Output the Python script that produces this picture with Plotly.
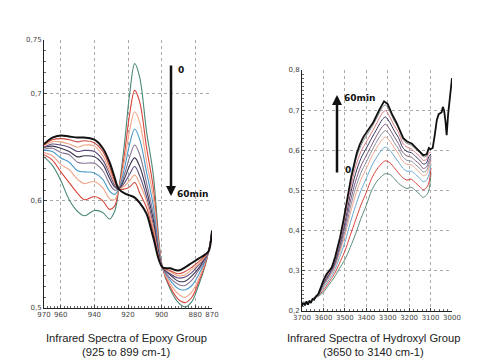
import plotly.graph_objects as go

# ---------------- Epoxy group (left panel) ----------------
X_EPOXY = [970, 965, 960, 955, 950, 946, 940, 935, 931, 928, 925.5, 922, 919, 916, 913,
           909, 905, 899.5, 895, 890, 886, 882, 878, 874, 872, 870]

EPOXY_T0 = [.641, .633, .619, .601, .590, .586, .591, .589, .583, .590, .611, .655, .700, .728, .715, .665, .625, .538, .518, .505, .501, .506, .521, .540, .553, .572]
EPOXY_T1 = [.643, .638, .627, .617, .607, .601, .604, .600, .592, .595, .611, .645, .681, .703, .692, .650, .613, .538, .520, .508, .505, .510, .524, .541, .553, .572]
EPOXY_T2 = [.645, .642, .634, .629, .620, .616, .618, .612, .602, .601, .611, .638, .666, .683, .673, .637, .604, .538, .523, .513, .510, .515, .527, .543, .553, .572]
EPOXY_T3 = [.647, .646, .640, .636, .628, .627, .626, .620, .609, .606, .611, .631, .653, .667, .657, .627, .596, .538, .526, .518, .517, .521, .531, .544, .553, .572]
EPOXY_T4 = [.648, .649, .645, .643, .636, .635, .635, .628, .616, .610, .611, .625, .641, .652, .643, .617, .588, .538, .528, .522, .521, .526, .535, .545, .553, .572]
EPOXY_T5 = [.650, .651, .649, .646, .641, .642, .641, .634, .621, .613, .611, .621, .633, .640, .632, .610, .583, .538, .531, .525, .525, .530, .537, .547, .553, .572]
EPOXY_T6 = [.650, .653, .652, .650, .646, .647, .646, .638, .625, .615, .611, .617, .625, .632, .623, .604, .578, .538, .532, .528, .529, .533, .540, .547, .553, .572]
EPOXY_T7 = [.651, .655, .655, .653, .650, .652, .651, .642, .628, .617, .611, .614, .619, .624, .616, .600, .575, .538, .534, .530, .531, .536, .541, .548, .553, .572]
EPOXY_T8 = [.652, .657, .658, .657, .655, .656, .654, .646, .632, .619, .611, .611, .613, .617, .607, .594, .571, .538, .535, .532, .534, .538, .543, .549, .553, .572]
EPOXY_T9 = [.653, .659, .661, .660, .659, .659, .657, .649, .636, .622, .611, .607, .605, .603, .598, .588, .566, .538, .537, .535, .538, .542, .546, .550, .553, .572]

EPOXY_COLORS = ["#4a8a78", "#d9443a", "#f2a58a", "#4a9bc9", "#857392",
                "#3a3350", "#5e4c7c", "#eea27f", "#cd4a3d", "#111111"]

EPOXY_XTICKS = [970, 960, 940, 920, 900, 880, 870]
EPOXY_YTICKS = [0.5, 0.6, 0.7, 0.75]
EPOXY_YTEXT = ["0,5", "0,6", "0,7", "0,75"]

# ---------------- Hydroxyl group (right panel) ----------------
X_HYD = [3650, 3625, 3600, 3575, 3550, 3525, 3500, 3475, 3450, 3425, 3400, 3375, 3350, 3325,
         3310, 3290, 3270, 3250, 3230, 3210, 3190, 3170, 3150, 3135, 3120, 3108, 3098]

HYD_T0 = [.228, .236, .247, .265, .283, .306, .328, .358, .392, .430, .463, .500, .523, .537, .542, .540, .530, .518, .510, .505, .508, .500, .490, .483, .488, .500, .545]
HYD_T1 = [.228, .237, .252, .271, .291, .319, .349, .388, .426, .464, .495, .530, .553, .569, .574, .569, .557, .544, .532, .526, .528, .519, .509, .502, .506, .519, .556]
HYD_T2 = [.229, .238, .258, .277, .299, .333, .371, .419, .462, .500, .530, .561, .584, .603, .608, .600, .586, .571, .556, .548, .548, .540, .530, .522, .525, .539, .567]
HYD_T3 = [.229, .239, .262, .282, .305, .343, .388, .442, .489, .527, .555, .584, .608, .627, .633, .623, .607, .591, .573, .565, .564, .555, .545, .537, .540, .554, .575]
HYD_T4 = [.229, .240, .264, .285, .309, .349, .398, .456, .506, .544, .571, .598, .623, .643, .649, .638, .620, .604, .584, .575, .573, .564, .555, .546, .549, .564, .580]
HYD_T5 = [.229, .240, .267, .288, .313, .356, .409, .471, .523, .561, .587, .613, .638, .659, .665, .652, .634, .617, .595, .586, .583, .574, .565, .555, .558, .573, .585]
HYD_T6 = [.230, .241, .270, .291, .317, .363, .420, .488, .542, .580, .605, .630, .654, .677, .683, .669, .649, .632, .607, .597, .594, .585, .575, .566, .568, .584, .591]
HYD_T7 = [.230, .241, .273, .294, .321, .369, .431, .502, .559, .597, .621, .644, .669, .693, .699, .683, .662, .645, .618, .608, .604, .594, .585, .575, .577, .593, .596]
HYD_T8 = [.230, .242, .275, .297, .324, .375, .440, .515, .574, .612, .636, .657, .682, .707, .713, .696, .674, .656, .628, .617, .613, .603, .594, .584, .585, .602, .601]

X_HYD_BLACK = [3700, 3693, 3686, 3679, 3672, 3665, 3658, 3651, 3644, 3636, 3624, 3610, 3597,
               3585, 3572, 3561, 3545, 3523, 3505, 3491, 3470, 3445, 3430, 3414, 3390, 3367,
               3340, 3317, 3300, 3280, 3258, 3240, 3227, 3210, 3188, 3160, 3134, 3118, 3108,
               3100, 3090, 3080, 3071, 3062, 3056, 3048, 3043, 3037, 3030, 3025, 3018, 3009, 3000]
HYD_BLACK = [.212, .222, .214, .224, .216, .226, .220, .230, .228, .236, .242, .262, .280,
             .292, .300, .308, .335, .382, .430, .475, .535, .592, .615, .633, .652, .670,
             .700, .722, .715, .690, .668, .645, .630, .622, .617, .602, .588, .590, .606,
             .603, .606, .640, .675, .690, .692, .695, .708, .700, .670, .638, .690, .742, .780]

HYD_COLORS = ["#5a8a7a", "#d9443a", "#6aa8d0", "#f0a890", "#8c8c9c",
              "#7a5a80", "#3a3560", "#d87a80", "#8a8a8a"]

HYD_XTICKS = [3700, 3600, 3500, 3400, 3300, 3200, 3100, 3000]
HYD_YTICKS = [0.2, 0.3, 0.4, 0.5, 0.6, 0.7, 0.8]
HYD_YTEXT = ["0,2", "0,3", "0,4", "0,5", "0,6", "0,7", "0,8"]

TITLE_LEFT = ["Infrared Spectra of Epoxy Group", "(925 to 899 cm-1)"]
TITLE_RIGHT = ["Infrared Spectra of Hydroxyl Group", "(3650 to 3140 cm-1)"]

W, H = 500, 360


def px(x):
    return x / W


def py(y):
    return 1 - y / H


fig = go.Figure()

epoxy_series = [EPOXY_T0, EPOXY_T1, EPOXY_T2, EPOXY_T3, EPOXY_T4,
                EPOXY_T5, EPOXY_T6, EPOXY_T7, EPOXY_T8, EPOXY_T9]
for i, ys in enumerate(epoxy_series):
    fig.add_trace(go.Scatter(
        x=X_EPOXY, y=ys, mode="lines", xaxis="x", yaxis="y",
        line=dict(color=EPOXY_COLORS[i], width=2.0 if i == 9 else 1.1,
                  shape="spline", smoothing=1.0),
        hoverinfo="skip"))

hyd_series = [HYD_T0, HYD_T1, HYD_T2, HYD_T3, HYD_T4, HYD_T5, HYD_T6, HYD_T7, HYD_T8]
for i, ys in enumerate(hyd_series):
    fig.add_trace(go.Scatter(
        x=X_HYD, y=ys, mode="lines", xaxis="x2", yaxis="y2",
        line=dict(color=HYD_COLORS[i], width=1.0, shape="spline", smoothing=0.8),
        hoverinfo="skip"))
fig.add_trace(go.Scatter(
    x=X_HYD_BLACK, y=HYD_BLACK, mode="lines", xaxis="x2", yaxis="y2",
    line=dict(color="#111111", width=1.8), hoverinfo="skip"))

tickfont = dict(family="DejaVu Sans", size=7, color="#444")
common_axis = dict(showline=True, linecolor="#222", linewidth=1, ticks="inside",
                   ticklen=3, tickcolor="#444", showgrid=True, gridcolor="#aaaaaa",
                   griddash="dot", gridwidth=1, zeroline=False, tickfont=tickfont,
                   automargin=False)

fig.update_layout(
    width=W, height=H, margin=dict(l=0, r=0, t=0, b=0, autoexpand=False),
    paper_bgcolor="white", plot_bgcolor="white", showlegend=False,
    xaxis=dict(domain=[px(44), px(212)], anchor="y", range=[970, 870],
               tickmode="array", tickvals=EPOXY_XTICKS,
               minor=dict(dtick=2, ticks="inside", ticklen=2, tickcolor="#666", showgrid=False),
               **common_axis),
    yaxis=dict(domain=[py(308), py(40)], anchor="x", range=[0.5, 0.75],
               tickmode="array", tickvals=EPOXY_YTICKS, ticktext=EPOXY_YTEXT,
               minor=dict(dtick=0.01, ticks="inside", ticklen=2, tickcolor="#666", showgrid=False),
               **common_axis),
    xaxis2=dict(domain=[px(302), px(452)], anchor="y2", range=[3700, 3000],
                tickmode="array", tickvals=HYD_XTICKS,
                minor=dict(dtick=20, ticks="inside", ticklen=2, tickcolor="#666", showgrid=False),
                **common_axis),
    yaxis2=dict(domain=[py(311), py(70)], anchor="x2", range=[0.2, 0.8],
                tickmode="array", tickvals=HYD_YTICKS, ticktext=HYD_YTEXT,
                minor=dict(dtick=0.01, ticks="inside", ticklen=2, tickcolor="#666", showgrid=False),
                **common_axis),
)

ann = []
title_font = dict(family="Liberation Sans, Arial", size=11.2, color="#222")
for cx, lines in ((126, TITLE_LEFT), (373, TITLE_RIGHT)):
    for k, t in enumerate(lines):
        ann.append(dict(x=px(cx), y=py(338 + 14 * k), xref="paper", yref="paper",
                        text=t, showarrow=False, font=title_font,
                        xanchor="center", yanchor="middle"))

label_font = dict(family="DejaVu Sans", size=9, color="#111")
# left arrow: 0 (top) -> 60min (bottom)
ann.append(dict(x=px(171), y=py(196), ax=0, ay=-132, xref="paper", yref="paper",
                axref="pixel", ayref="pixel", showarrow=True, arrowhead=2, arrowsize=0.8,
                arrowwidth=2.5, arrowcolor="#111", text=""))
ann.append(dict(x=px(176), y=py(70), xref="paper", yref="paper", text="<b>0</b>",
                showarrow=False, font=label_font, xanchor="left", yanchor="middle"))
ann.append(dict(x=px(175), y=py(194), xref="paper", yref="paper", text="<b>60min</b>",
                showarrow=False, font=label_font, xanchor="left", yanchor="middle"))
# right arrow: 0 (bottom) -> 60min (top)
ann.append(dict(x=px(337), y=py(95), ax=0, ay=79, xref="paper", yref="paper",
                axref="pixel", ayref="pixel", showarrow=True, arrowhead=2, arrowsize=0.8,
                arrowwidth=2.5, arrowcolor="#111", text=""))
ann.append(dict(x=px(342), y=py(98), xref="paper", yref="paper", text="<b>60min</b>",
                showarrow=False, font=label_font, xanchor="left", yanchor="middle"))
ann.append(dict(x=px(343), y=py(170), xref="paper", yref="paper", text="<b>0</b>",
                showarrow=False, font=label_font, xanchor="left", yanchor="middle"))

fig.update_layout(annotations=ann)
fig.write_html("out.html", config={"displayModeBar": False},
               post_script="document.body.style.margin='0';document.body.style.overflow='hidden';")
